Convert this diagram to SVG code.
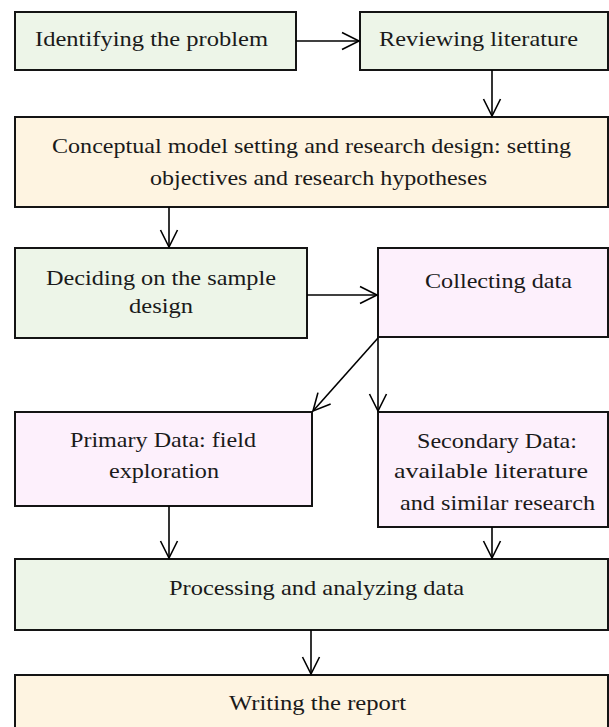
<svg xmlns="http://www.w3.org/2000/svg" width="609" height="727" viewBox="0 0 609 727">
<style>
.box{stroke:#141414;stroke-width:2}
.g{fill:#EDF5E8}
.y{fill:#FEF4E1}
.p{fill:#FDF0FC}
text{font-family:"Liberation Serif","Times New Roman",serif;font-size:21px;fill:#1a1a1a}
.c line{stroke:#000;stroke-width:1.6;fill:none}
</style>
<defs>
<marker id="ah" markerUnits="userSpaceOnUse" markerWidth="24" markerHeight="24" viewBox="-20 -12 24 24" refX="0" refY="0" orient="auto">
<path d="M-17,-8.5 L0,0 L-17,8.5" fill="none" stroke="#000" stroke-width="1.6"/>
</marker>
</defs>
<rect width="609" height="727" fill="#fff"/>
<g id="n1"><rect class="box g" x="15" y="12" width="281" height="58"/><text x="35" y="46" textLength="233" lengthAdjust="spacingAndGlyphs">Identifying the problem</text></g>
<g id="n2"><rect class="box g" x="360" y="12" width="248" height="58"/><text x="379" y="46" textLength="199" lengthAdjust="spacingAndGlyphs">Reviewing literature</text></g>
<g id="n3"><rect class="box y" x="15" y="117" width="593" height="90"/><text x="52" y="153" textLength="519" lengthAdjust="spacingAndGlyphs">Conceptual model setting and research design: setting</text><text x="150" y="185" textLength="337" lengthAdjust="spacingAndGlyphs">objectives and research hypotheses</text></g>
<g id="n4"><rect class="box g" x="15" y="248" width="292" height="90"/><text x="46" y="285" textLength="230" lengthAdjust="spacingAndGlyphs">Deciding on the sample</text><text x="129" y="313" textLength="64" lengthAdjust="spacingAndGlyphs">design</text></g>
<g id="n5"><rect class="box p" x="378" y="248" width="230" height="89"/><text x="425" y="288" textLength="147" lengthAdjust="spacingAndGlyphs">Collecting data</text></g>
<g id="n6"><rect class="box p" x="15" y="412" width="297" height="94"/><text x="70" y="447" textLength="186" lengthAdjust="spacingAndGlyphs">Primary Data: field</text><text x="109" y="478" textLength="110" lengthAdjust="spacingAndGlyphs">exploration</text></g>
<g id="n7"><rect class="box p" x="378" y="412" width="230" height="115"/><text x="417" y="448" textLength="160" lengthAdjust="spacingAndGlyphs">Secondary Data:</text><text x="394" y="478" textLength="194" lengthAdjust="spacingAndGlyphs">available literature</text><text x="400" y="510" textLength="195" lengthAdjust="spacingAndGlyphs">and similar research</text></g>
<g id="n8"><rect class="box g" x="15" y="559" width="593" height="71"/><text x="169" y="595" textLength="295" lengthAdjust="spacingAndGlyphs">Processing and analyzing data</text></g>
<g id="n9"><rect class="box y" x="15" y="675" width="593" height="70"/><text x="229" y="710" textLength="177" lengthAdjust="spacingAndGlyphs">Writing the report</text></g>
<g id="connectors" class="c">
<line x1="296" y1="41" x2="359" y2="41" marker-end="url(#ah)"/>
<line x1="492" y1="70" x2="492" y2="116" marker-end="url(#ah)"/>
<line x1="169" y1="207" x2="169" y2="247" marker-end="url(#ah)"/>
<line x1="307" y1="295" x2="377" y2="295" marker-end="url(#ah)"/>
<line x1="378" y1="338" x2="313" y2="411" marker-end="url(#ah)"/>
<line x1="378" y1="338" x2="378" y2="411" marker-end="url(#ah)"/>
<line x1="169" y1="506" x2="169" y2="558" marker-end="url(#ah)"/>
<line x1="492" y1="527" x2="492" y2="558" marker-end="url(#ah)"/>
<line x1="311" y1="630" x2="311" y2="674" marker-end="url(#ah)"/>
</g>
</svg>
